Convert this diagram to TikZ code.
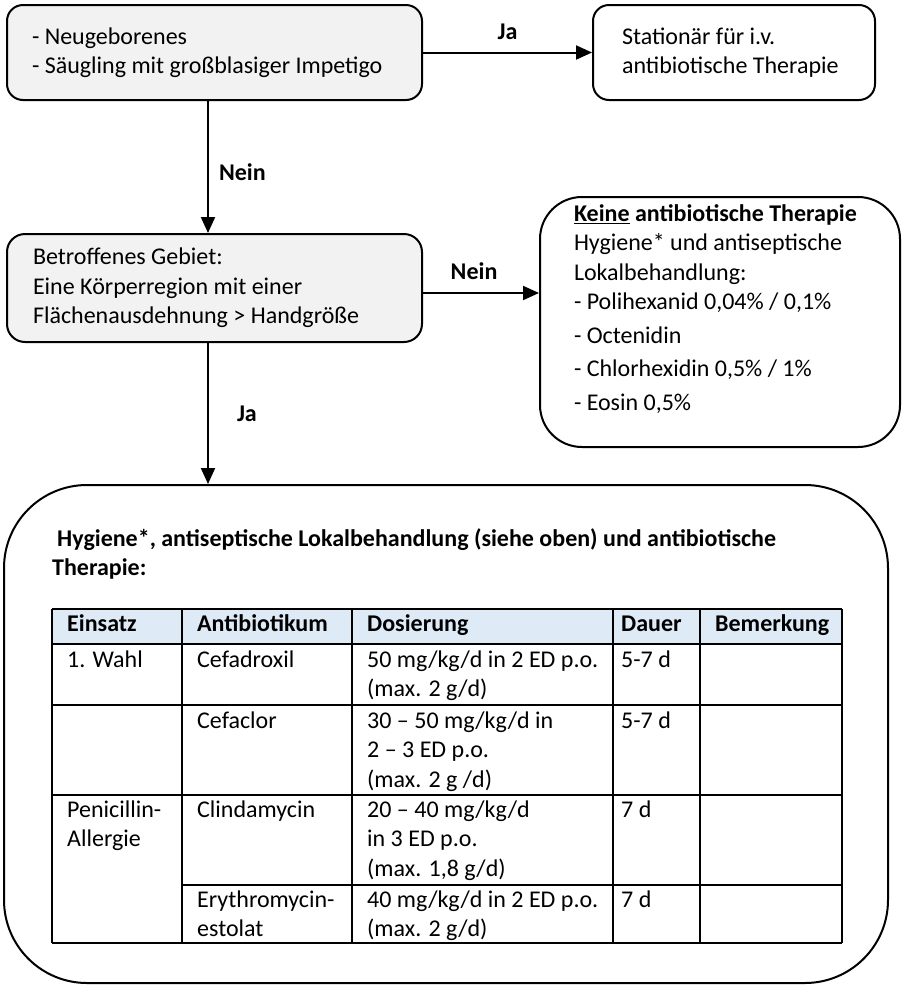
\documentclass[tikz,border=0pt]{standalone}
\usepackage{fontspec}
\setmainfont{Carlito}
\usetikzlibrary{arrows.meta,positioning}
\definecolor{boxgrey}{HTML}{F2F2F2}
\definecolor{hdrblue}{HTML}{DEEAF6}
\newcommand{\flowfont}{\fontsize{24}{29.5}\selectfont}

\begin{document}
\begin{tikzpicture}[x=1pt,y=-1pt,
  box/.style={draw,line width=2pt,rounded corners=16pt,align=flush left,font=\flowfont,inner ysep=0pt},
  query/.style={box,fill=boxgrey},
  lbl/.style={font=\flowfont\bfseries,inner sep=2pt},
  cell/.style={anchor=north west,inner sep=0pt,align=flush left,font=\flowfont},
  head/.style={cell,font=\flowfont\bfseries},
  rule/.style={line width=1.8pt},
  arr/.style={-{Triangle[length=16pt,width=14pt]},line width=2pt}]
\useasboundingbox[fill=white] (0,0) rectangle (905,986);
\node[query,text width=365pt,inner xsep=25pt,minimum height=95pt] (start) at (214.5,52.5) {- Neugeborenes\\- Säugling mit großblasiger Impetigo};
\node[box,text width=224pt,inner xsep=29pt,minimum height=95pt] (stat) at (734,52.5) {Stationär für i.v.\\antibiotische Therapie};
\node[query,rounded corners=18pt,text width=363pt,inner xsep=26pt,minimum height=108pt] (area) at (214.5,288) {Betroffenes Gebiet:\\Eine Körperregion mit einer\\Flächenausdehnung > Handgröße};
\node[box,rounded corners=42pt,text width=292pt,inner xsep=34pt,minimum height=250pt] (keine) at (720,322) {\textbf{\underline{Keine} antibiotische Therapie}\\Hygiene* und antiseptische\\Lokalbehandlung:\\- Polihexanid 0,04\% / 0,1\%\\[4pt]- Octenidin\\[4pt]- Chlorhexidin 0,5\% / 1\%\\[4pt]- Eosin 0,5\%\\\mbox{}};
\node[box,rounded corners=83pt,inner sep=0pt,minimum width=884pt,minimum height=498pt] (ther) at (446,734) {};
% connectors
\draw[arr] (start) -- node[lbl,above=10pt] (ja1) {Ja} (stat);
\draw[arr] ([xshift=-6.5pt]start.south) -- node[lbl,pos=0.54,right=8pt] (nein1) {Nein} ([xshift=-6.5pt]start.south |- area.north);
\draw[arr] ([yshift=-5pt]area.east) -- node[lbl,pos=0.44,above=10pt] (nein2) {Nein} ([yshift=-5pt]area.east -| keine.west);
\draw[arr] ([xshift=-6.5pt]area.south) -- node[lbl,right=26pt] (ja2) {Ja} ([xshift=-6.5pt]area.south |- ther.north);
% therapy table
\node[head] (thtitle) at (52,525.5) {\strut\hspace*{5pt}Hygiene*, antiseptische Lokalbehandlung (siehe oben) und antibiotische\\Therapie:};
\fill[hdrblue] (52,609) rectangle (842,644);
\foreach \y in {609,644,705,795,943} \draw[rule] (52,\y) -- (842,\y);
\draw[rule] (182,885) -- (842,885);
\foreach \x in {52,182,352,613,700,842} \draw[rule] (\x,609) -- (\x,943);
\foreach [count=\i] \cx/\ct in {67/Einsatz,197/Antibiotikum,367/Dosierung,621/Dauer,715/Bemerkung}
  \node[head] (hd\i) at (\cx,610.5) {\strut\ct};
\foreach [count=\i] \cx/\cy/\ct in {67/646.5/{1. Wahl},197/646.5/Cefadroxil,367/646.5/{50 mg/kg/d in 2 ED p.o.\\(max. 2 g/d)},621/646.5/{5-7 d},
  197/707.5/Cefaclor,367/707.5/{30 – 50 mg/kg/d in\\2 – 3 ED p.o.\\(max. 2 g /d)},621/707.5/{5-7 d},
  67/796.5/{Penicillin-\\Allergie},197/796.5/Clindamycin,367/796.5/{20 – 40 mg/kg/d\\in 3 ED p.o.\\(max. 1,8 g/d)},621/796.5/{7 d},
  197/886.5/{Erythromycin-\\estolat},367/886.5/{40 mg/kg/d in 2 ED p.o.\\(max. 2 g/d)},621/886.5/{7 d}}
  \node[cell] (cell\i) at (\cx,\cy) {\strut\ct};
\end{tikzpicture}
\end{document}
